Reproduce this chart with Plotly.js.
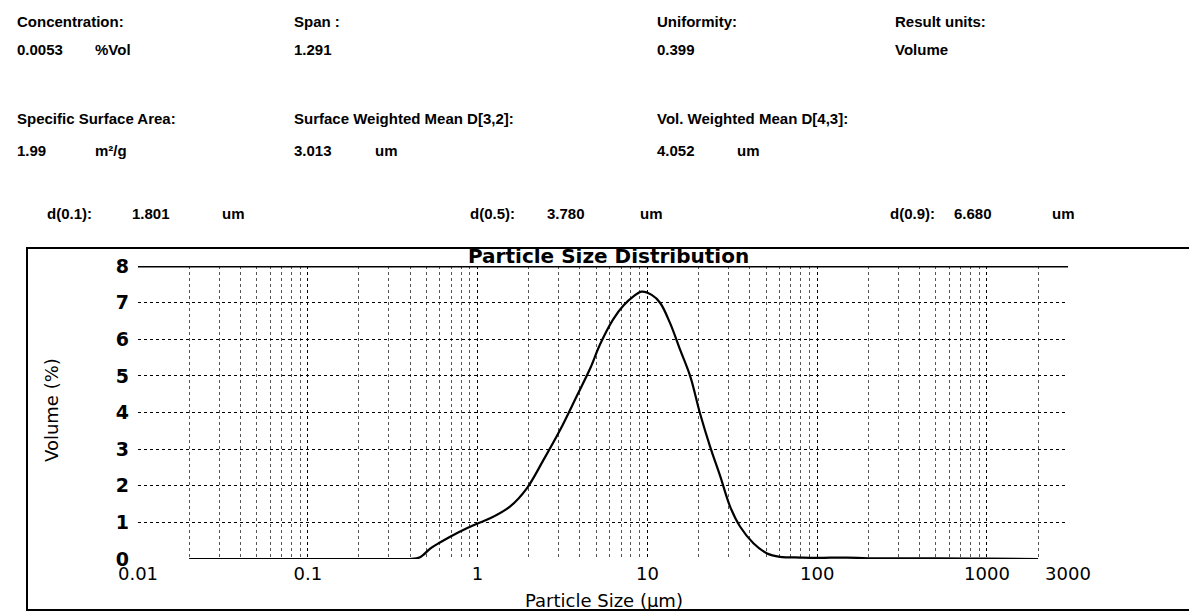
<!DOCTYPE html>
<html>
<head>
<meta charset="utf-8">
<script src="https://cdn.plot.ly/plotly-3.0.1.min.js"></script>
<style>html,body{margin:0;padding:0;background:#fff;}#chart{width:1189px;height:612px;}</style>
</head>
<body>
<div id="chart"></div>
<script>
// Particle size (µm) and volume (%)
const sizes = [0.02, 0.1, 0.3, 0.4, 0.458, 0.528, 0.6, 0.689, 0.864, 1.0, 1.185, 1.55, 1.95, 2.44, 3.06, 3.84, 4.6, 5.25, 6.3, 7.23, 8.28, 9.27, 10.6, 11.9, 13.6, 15.6, 17.9, 20.4, 23.4, 26.9, 30.7, 35.2, 42.1, 50.4, 60.3, 80, 100, 150, 200, 500, 1000, 2000];
const volumes = [0, 0, 0, 0, 0.05, 0.29, 0.45, 0.61, 0.84, 0.97, 1.11, 1.43, 1.93, 2.7, 3.52, 4.45, 5.2, 5.85, 6.55, 6.92, 7.17, 7.3, 7.21, 6.99, 6.44, 5.71, 4.98, 3.98, 3.07, 2.25, 1.43, 0.88, 0.43, 0.16, 0.06, 0.04, 0.03, 0.04, 0.02, 0.02, 0.01, 0];

const xTickVals = [0.01, 0.1, 1, 10, 100, 1000, 3000];
const xTickText = ["0.01", "0.1", "1", "10", "100", "1000", "3000"];
const yTickVals = [0, 1, 2, 3, 4, 5, 6, 7, 8];

// Header texts
const headerLabels = ["Concentration:", "Span :", "Uniformity:", "Result units:",
                      "Specific Surface Area:", "Surface Weighted Mean D[3,2]:", "Vol. Weighted Mean D[4,3]:"];
const headerValues = ["0.0053", "1.291", "0.399", "Volume", "1.99", "3.013", "4.052"];
const headerUnits  = ["%Vol", "", "", "", "m²/g", "um", "um"];
const dLabels = ["d(0.1):", "d(0.5):", "d(0.9):"];
const dValues = ["1.801", "3.780", "6.680"];
const dUnits  = ["um", "um", "um"];

// geometry helpers (pixel -> paper)
const W = 1189, H = 612;
const mL = 138, mR = 121, mT = 266, mB = 53;
const pw = W - mL - mR, ph = H - mT - mB;
const px = x => (x - mL) / pw;
const py = y => (H - mB - y) / ph;

const hdrFont = {family: "'Liberation Sans', Arial, sans-serif", size: 15, color: "#000", weight: "bold"};
const annotations = [];
function addText(text, x, y, font, extra) {
  annotations.push(Object.assign({text: text, x: px(x), y: py(y), xref: "paper", yref: "paper",
    xanchor: "left", yanchor: "middle", showarrow: false, font: font}, extra || {}));
}
const colX = [15, 292, 655, 893, 15, 292, 655];
const unitX = [93, 0, 0, 0, 93, 373, 735];
const rowLabelY = [21, 21, 21, 21, 118, 118, 118];
const rowValueY = [50, 50, 50, 50, 150, 150, 150];
headerLabels.forEach((t, i) => {
  addText(t, colX[i], rowLabelY[i], hdrFont);
  addText(headerValues[i], colX[i], rowValueY[i], hdrFont);
  if (headerUnits[i]) addText(headerUnits[i], unitX[i], rowValueY[i], hdrFont);
});
const dX = [45, 468, 888], dVX = [130, 545, 952], dUX = [220, 638, 1050];
dLabels.forEach((t, i) => {
  addText(t, dX[i], 213, hdrFont);
  addText(dValues[i], dVX[i], 213, hdrFont);
  addText(dUnits[i], dUX[i], 213, hdrFont);
});

// chart title, axis titles
annotations.push({text: "Particle Size Distribution", x: px(608), y: py(256), xref: "paper", yref: "paper",
  xanchor: "center", yanchor: "middle", showarrow: false,
  font: {family: "'DejaVu Sans', Verdana, sans-serif", size: 20, color: "#000", weight: "bold"}});
annotations.push({text: "Volume (%)", x: px(51), y: py(410), xref: "paper", yref: "paper",
  xanchor: "center", yanchor: "middle", showarrow: false, textangle: -90,
  font: {family: "'DejaVu Sans', sans-serif", size: 18, color: "#000"}});
annotations.push({text: "Particle Size (μm)", x: px(604), y: py(600), xref: "paper", yref: "paper",
  xanchor: "center", yanchor: "middle", showarrow: false,
  font: {family: "'DejaVu Sans', sans-serif", size: 18, color: "#000"}});

const trace = {
  x: sizes, y: volumes, type: "scatter", mode: "lines",
  line: {color: "#000", width: 2.2, shape: "spline", smoothing: 1},
  hoverinfo: "skip", cliponaxis: false
};

const layout = {
  width: W, height: H,
  margin: {l: mL, r: mR, t: mT, b: mB, pad: 0},
  paper_bgcolor: "#fff", plot_bgcolor: "#fff",
  showlegend: false,
  xaxis: {
    type: "log", range: [-2, Math.log10(3000)],
    tickmode: "array", tickvals: xTickVals, ticktext: xTickText,
    ticks: "", showline: false, zeroline: false,
    showgrid: true, gridcolor: "#000", griddash: "dot", gridwidth: 1,
    minor: {dtick: "D1", showgrid: true, gridcolor: "#555", griddash: "dot", gridwidth: 1, ticks: ""},
    tickfont: {family: "'DejaVu Sans', sans-serif", size: 18, color: "#000"},
    ticklabelstandoff: 2
  },
  yaxis: {
    range: [0, 8], tickmode: "array", tickvals: yTickVals,
    ticks: "", showline: false, zeroline: false,
    showgrid: true, gridcolor: "#000", griddash: "dot", gridwidth: 1,
    tickfont: {family: "'DejaVu Sans', sans-serif", size: 19, color: "#000", weight: "bold"},
    ticklabelstandoff: 8
  },
  shapes: [
    {type: "line", xref: "paper", yref: "y", x0: 0, x1: 1, y0: 8, y1: 8, line: {color: "#000", width: 3}},
    {type: "rect", xref: "paper", yref: "paper", x0: px(27), x1: px(1200), y0: py(248), y1: py(610),
     line: {color: "#000", width: 2}, fillcolor: "rgba(0,0,0,0)"}
  ],
  annotations: annotations
};

Plotly.newPlot("chart", [trace], layout, {staticPlot: true, displayModeBar: false});
</script>
</body>
</html>
